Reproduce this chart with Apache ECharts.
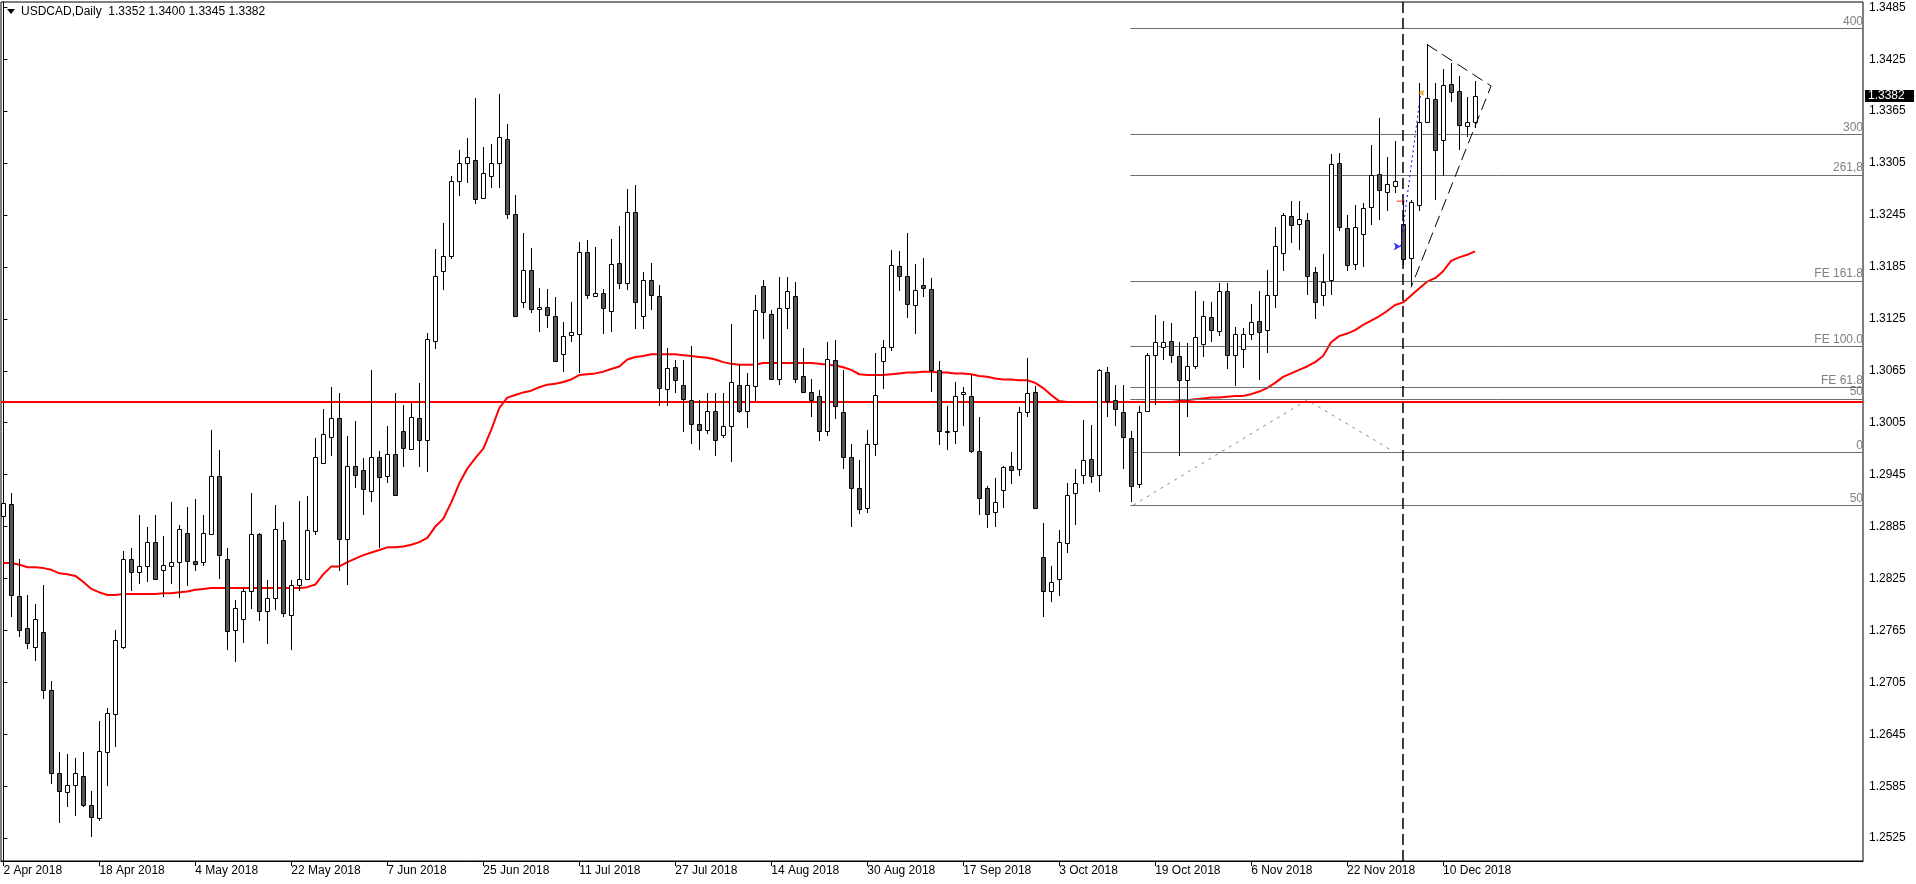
<!DOCTYPE html>
<html>
<head>
<meta charset="utf-8">
<script src="https://cdn.jsdelivr.net/npm/echarts@6/dist/echarts.min.js"></script>
<style>
html,body{margin:0;padding:0;background:#fff;}
#chart{width:1916px;height:884px;}
</style>
</head>
<body>
<div id="chart"></div>
<script>
// ---- data ----
const symbolTitle = 'USDCAD,Daily  1.3352 1.3400 1.3345 1.3382';
const dateLabels = ['2 Apr 2018','18 Apr 2018','4 May 2018','22 May 2018','7 Jun 2018','25 Jun 2018','11 Jul 2018','27 Jul 2018','14 Aug 2018','30 Aug 2018','17 Sep 2018','3 Oct 2018','19 Oct 2018','6 Nov 2018','22 Nov 2018','10 Dec 2018'];
const dateLabelIndex = [0,12,24,36,48,60,72,84,96,108,120,132,144,156,168,180];
const priceTicks = [1.2525,1.2585,1.2645,1.2705,1.2765,1.2825,1.2885,1.2945,1.3005,1.3065,1.3125,1.3185,1.3245,1.3305,1.3365,1.3425,1.3485];

const opens = [1.2897,1.2911,1.2805,1.2768,1.2746,1.2763,1.2696,1.2600,1.2578,1.2586,1.2597,1.2563,1.2548,1.2624,1.2669,1.2746,1.2847,1.2832,1.2839,1.2867,
1.2835,1.2840,1.2844,1.2877,1.2845,1.2844,1.2876,1.2943,1.2847,1.2765,1.2778,1.2810,1.2876,1.2788,1.2803,1.2870,1.2783,1.2817,1.2825,1.2880,
1.2959,1.2989,1.3010,1.2871,1.2955,1.2950,1.2926,1.2965,1.2943,1.2969,1.2996,1.2975,1.3010,1.2985,1.3099,1.3180,1.3198,1.3284,1.3305,1.3308,
1.3265,1.3290,1.3305,1.3333,1.3246,1.3145,1.3181,1.3136,1.3139,1.3128,1.3084,1.3106,1.3108,1.3202,1.3151,1.3155,1.3134,1.3189,1.3166,1.3248,
1.3128,1.3170,1.3151,1.3044,1.3069,1.3048,1.3031,1.3003,1.2997,1.3019,1.2991,1.3001,1.3049,1.3018,1.3047,1.3163,1.3131,1.3055,1.3137,1.3151,
1.3059,1.3041,1.3036,1.2995,1.3078,1.3017,1.2965,1.2929,1.2906,1.2980,1.3076,1.3093,1.3186,1.3174,1.3141,1.3164,1.3159,1.3066,1.2995,1.2996,
1.3038,1.3036,1.2972,1.2929,1.2902,1.2927,1.2955,1.2951,1.3017,1.3040,1.2850,1.2810,1.2825,1.2866,1.2924,1.2945,1.2963,1.2945,1.3064,1.3031,
1.3017,1.2987,1.2934,1.3018,1.3083,1.3092,1.3099,1.3082,1.3054,1.3071,1.3096,1.3127,1.3111,1.3157,1.3083,1.3090,1.3108,1.3122,1.3112,1.3153,
1.3201,1.3244,1.3235,1.3239,1.3179,1.3152,1.3170,1.3305,1.3230,1.3188,1.3223,1.3254,1.3292,1.3272,1.3279,1.3235,1.3195,1.3256,1.3353,1.3379,
1.3332,1.3396,1.3388,1.3348,1.3352];
const highs = [1.2944,1.2924,1.2848,1.2806,1.2796,1.2818,1.2706,1.2624,1.2622,1.2618,1.2624,1.2580,1.2660,1.2675,1.2766,1.2857,1.2860,1.2898,1.2885,1.2898,
1.2874,1.2913,1.2887,1.2908,1.2917,1.2898,1.2997,1.2974,1.2860,1.2800,1.2814,1.2924,1.2877,1.2823,1.2910,1.2890,1.2823,1.2914,1.2920,1.2987,
1.3021,1.3046,1.3039,1.2990,1.3007,1.2964,1.3066,1.2972,1.3001,1.3039,1.3026,1.3028,1.3051,1.3109,1.3206,1.3236,1.3290,1.3320,1.3334,1.3380,
1.3324,1.3327,1.3385,1.3350,1.3268,1.3224,1.3207,1.3161,1.3160,1.3150,1.3121,1.3144,1.3214,1.3216,1.3208,1.3160,1.3217,1.3232,1.3275,1.3280,
1.3179,1.3189,1.3164,1.3091,1.3077,1.3077,1.3094,1.3031,1.3039,1.3039,1.3039,1.3119,1.3073,1.3063,1.3152,1.3170,1.3135,1.3173,1.3173,1.3168,
1.3091,1.3056,1.3043,1.3098,1.3101,1.3066,1.2980,1.2962,1.2997,1.3086,1.3100,1.3205,1.3203,1.3224,1.3188,1.3195,1.3172,1.3076,1.3024,1.3052,
1.3046,1.3060,1.3012,1.2932,1.2941,1.2955,1.2971,1.3023,1.3080,1.3047,1.2889,1.2839,1.2881,1.2935,1.2952,1.3008,1.3002,1.3067,1.3069,1.3049,
1.3048,1.2996,1.3024,1.3086,1.3130,1.3123,1.3120,1.3098,1.3097,1.3157,1.3146,1.3144,1.3167,1.3166,1.3116,1.3115,1.3142,1.3157,1.3181,1.3231,
1.3247,1.3261,1.3261,1.3247,1.3185,1.3200,1.3315,1.3317,1.3245,1.3256,1.3259,1.3326,1.3357,1.3312,1.3330,1.3262,1.3262,1.3397,1.3442,1.3398,
1.3414,1.3421,1.3406,1.3381,1.3400];
const lows = [1.2862,1.2780,1.2757,1.2744,1.2730,1.2686,1.2588,1.2543,1.2561,1.2551,1.2561,1.2526,1.2545,1.2585,1.2630,1.2744,1.2811,1.2819,1.2821,1.2824,
1.2804,1.2819,1.2802,1.2816,1.2834,1.2839,1.2875,1.2824,1.2742,1.2728,1.2750,1.2790,1.2776,1.2749,1.2789,1.2780,1.2742,1.2810,1.2824,1.2875,
1.2958,1.2967,1.2834,1.2817,1.2930,1.2898,1.2913,1.2860,1.2935,1.2921,1.2954,1.2975,1.2954,1.2948,1.3090,1.3158,1.3194,1.3267,1.3282,1.3258,
1.3263,1.3276,1.3276,1.3240,1.3127,1.3137,1.3132,1.3110,1.3114,1.3075,1.3064,1.3098,1.3062,1.3148,1.3150,1.3108,1.3110,1.3160,1.3158,1.3113,
1.3113,1.3135,1.3024,1.3024,1.3039,1.2994,1.2980,1.2973,1.2992,1.2966,1.2987,1.2960,1.3016,1.2999,1.3030,1.3102,1.3054,1.3049,1.3113,1.3051,
1.3039,1.3012,1.2984,1.2990,1.3009,1.2951,1.2885,1.2900,1.2901,1.2967,1.3044,1.3088,1.3157,1.3126,1.3108,1.3150,1.3040,1.2979,1.2973,1.2980,
1.3001,1.2970,1.2898,1.2883,1.2884,1.2906,1.2934,1.2943,1.3012,1.2905,1.2780,1.2798,1.2805,1.2854,1.2887,1.2934,1.2935,1.2925,1.3012,1.3001,
1.2952,1.2913,1.2930,1.3017,1.3025,1.3077,1.3074,1.2966,1.3012,1.3067,1.3081,1.3098,1.3105,1.3067,1.3047,1.3068,1.3100,1.3054,1.3085,1.3138,
1.3180,1.3213,1.3205,1.3153,1.3125,1.3140,1.3152,1.3227,1.3180,1.3182,1.3185,1.3233,1.3239,1.3250,1.3270,1.3187,1.3163,1.3250,1.3352,1.3262,
1.3290,1.3375,1.3320,1.3335,1.3345];
const closes = [1.2912,1.2806,1.2766,1.2750,1.2778,1.2696,1.2600,1.2579,1.2586,1.2600,1.2563,1.2549,1.2626,1.2670,1.2754,1.2847,1.2832,1.2839,1.2867,1.2825,
1.2841,1.2844,1.2882,1.2845,1.2842,1.2878,1.2943,1.2852,1.2764,1.2791,1.2811,1.2876,1.2788,1.2802,1.2882,1.2785,1.2817,1.2825,1.2881,1.2965,
1.2992,1.3010,1.2871,1.2955,1.2945,1.2928,1.2965,1.2942,1.2969,1.2922,1.2976,1.3012,1.2985,1.3102,1.3175,1.3198,1.3284,1.3305,1.3312,1.3264,
1.3294,1.3305,1.3335,1.3246,1.3128,1.3181,1.3136,1.3139,1.3129,1.3076,1.3105,1.3110,1.3202,1.3152,1.3155,1.3137,1.3188,1.3167,1.3248,1.3144,
1.3170,1.3152,1.3045,1.3068,1.3054,1.3032,1.3003,1.2997,1.3019,1.2985,1.3001,1.3052,1.3019,1.3048,1.3135,1.3133,1.3055,1.3138,1.3157,1.3056,
1.3041,1.3031,1.2995,1.3079,1.3024,1.2965,1.2930,1.2905,1.2980,1.3037,1.3092,1.3187,1.3175,1.3142,1.3158,1.3161,1.3066,1.2995,1.2994,1.3036,
1.3040,1.2972,1.2918,1.2900,1.2913,1.2954,1.2950,1.3017,1.3039,1.2907,1.2811,1.2821,1.2867,1.2922,1.2935,1.2962,1.2943,1.3066,1.3030,1.3021,
1.2988,1.2932,1.3017,1.3083,1.3098,1.3098,1.3083,1.3054,1.3070,1.3104,1.3128,1.3112,1.3157,1.3083,1.3107,1.3107,1.3121,1.3110,1.3152,1.3209,
1.3245,1.3234,1.3240,1.3175,1.3145,1.3168,1.3304,1.3231,1.3187,1.3231,1.3253,1.3291,1.3274,1.3281,1.3284,1.3194,1.3260,1.3352,1.3380,1.3320,
1.3395,1.3387,1.3349,1.3352,1.3382];
const movingAvg = [1.2843,1.2843,1.2841,1.2838,1.2838,1.2837,1.2835,1.2831,1.2830,1.2828,1.2821,1.2813,1.2809,1.2806,1.2806,1.2807,1.2807,1.2807,1.2807,1.2807,
1.2808,1.2808,1.2809,1.2810,1.2812,1.2813,1.2814,1.2814,1.2814,1.2814,1.2814,1.2814,1.2814,1.2814,1.2814,1.2814,1.2814,1.2814,1.2815,1.2818,
1.2830,1.2839,1.2839,1.2844,1.2848,1.2852,1.2855,1.2858,1.2861,1.2861,1.2862,1.2864,1.2867,1.2872,1.2885,1.2894,1.2913,1.2935,1.2952,1.2964,
1.2975,1.2997,1.3022,1.3034,1.3037,1.3040,1.3042,1.3046,1.3049,1.3050,1.3052,1.3055,1.3060,1.3061,1.3062,1.3064,1.3067,1.3070,1.3078,1.3081,
1.3082,1.3084,1.3084,1.3084,1.3084,1.3083,1.3082,1.3081,1.3080,1.3078,1.3075,1.3073,1.3072,1.3072,1.3072,1.3074,1.3074,1.3074,1.3074,1.3074,
1.3074,1.3074,1.3073,1.3072,1.3071,1.3069,1.3066,1.3061,1.3060,1.3060,1.3060,1.3061,1.3062,1.3063,1.3063,1.3064,1.3064,1.3063,1.3063,1.3062,
1.3062,1.3061,1.3059,1.3058,1.3056,1.3055,1.3055,1.3054,1.3054,1.3051,1.3045,1.3037,1.3030,1.3029,1.3029,1.3029,1.3029,1.3029,1.3029,1.3029,
1.3029,1.3029,1.3029,1.3029,1.3029,1.3029,1.3029,1.3030,1.3031,1.3032,1.3033,1.3034,1.3034,1.3035,1.3036,1.3036,1.3038,1.3041,1.3045,1.3051,
1.3058,1.3062,1.3066,1.3070,1.3075,1.3082,1.3098,1.3105,1.3108,1.3112,1.3118,1.3123,1.3128,1.3134,1.3141,1.3144,1.3152,1.3160,1.3168,1.3172,
1.3180,1.3192,1.3196,1.3199,1.3203];
const supportLevel = 1.3029;
const lastPrice = 1.3382;
const fiboLevels = [1.34607,1.33383,1.32913,1.31688,1.30934,1.30460,1.30325,1.29709,1.29097];
const fiboLabels = ['400','300','261,8','FE 161.8','FE 100.0','FE 61.8','50','0','50'];
const fiboStartBar = 140.9;
const fiboZigzag = [[141.25,1.29097],[163.0,1.30313],[173.75,1.29720]];
const triangleLine = [[178.0,1.3442],[186.0,1.33941],[176.0,1.31615]];
const markerBar = 175;
const tradeArrow = [[174.7,1.32085],[177.2,1.33863]];
const tradeTick = [174.7,1.3261];

// ---- chart ----
const X_MIN = -0.3, X_MAX = 232.5;
const chart = echarts.init(document.getElementById('chart'), null, {renderer:'canvas'});
const candleData = opens.map((o,i)=>[i,o,highs[i],lows[i],closes[i]]);
const maData = movingAvg.map((v,i)=>[i,v]);
const FONT = 'Liberation Sans, Arial, sans-serif';

const fiboMarks = fiboLevels.map((lv,k)=>[
  {coord:[fiboStartBar,lv], label:{show:true, formatter:fiboLabels[k], position:'insideEndTop', color:'#7f7f88', fontSize:12, fontFamily:FONT, distance:[0,1]}},
  {coord:[X_MAX,lv]}
]);

const option = {
  animation:false,
  backgroundColor:'#ffffff',
  grid:{left:1, right:53, top:2, bottom:23, show:true, borderColor:'#000', borderWidth:1, backgroundColor:'#fff'},
  xAxis:{
    type:'value', min:X_MIN, max:X_MAX, position:'bottom',
    axisLine:{show:true, onZero:false, lineStyle:{color:'#000', width:1}},
    axisTick:{show:true, length:5, lineStyle:{color:'#000'}, customValues:dateLabelIndex},
    axisLabel:{show:true, customValues:dateLabelIndex, align:'left', margin:4, color:'#000', fontSize:12, fontFamily:FONT,
      formatter:(v)=>{const k=dateLabelIndex.indexOf(Math.round(v)); return k>=0?dateLabels[k]:'';}},
    splitLine:{show:false}
  },
  yAxis:{
    type:'value', position:'right', min:1.24986, max:1.34911, scale:true,
    axisLine:{show:true, lineStyle:{color:'#000', width:1}},
    axisTick:{show:true, length:4, lineStyle:{color:'#000'}, customValues:priceTicks},
    axisLabel:{show:true, customValues:priceTicks, margin:6, color:'#000', fontSize:12, fontFamily:FONT,
      formatter:(v)=>v.toFixed(4)},
    splitLine:{show:false}
  },
  graphic:[
    {type:'polygon', shape:{points:[[7,9],[15,9],[11,14]]}, style:{fill:'#000'}},
    {type:'text', left:21, top:6, style:{text:symbolTitle, fill:'#000', font:'12px '+FONT}}
  ],
  series:[
    {
      type:'line', name:'levels', data:[], silent:true,
      markLine:{silent:true, symbol:['none','none'], lineStyle:{color:'#6e6e6e', width:1, type:'solid'}, data:fiboMarks}
    },
    {
      type:'line', name:'support', data:[], silent:true, z:3,
      markLine:{silent:true, symbol:['none','none'], label:{show:false},
        lineStyle:{color:'#ff0000', width:2, type:'solid'},
        data:[[{coord:[X_MIN,supportLevel]},{coord:[X_MAX,supportLevel]}]]}
    },
    {
      type:'line', name:'zigzag', data:fiboZigzag, symbol:'none', silent:true,
      lineStyle:{color:'#8a8a8a', width:1, type:[3,5]}
    },
    {
      type:'line', name:'MA', data:maData, symbol:'none', silent:true, z:4,
      lineStyle:{color:'#ff0000', width:2}
    },
    {
      type:'custom', name:'candles', data:candleData, z:5,
      encode:{x:0, y:[1,2,3,4]},
      renderItem:(params, api)=>{
        const i=api.value(0), o=api.value(1), h=api.value(2), l=api.value(3), c=api.value(4);
        const pO=api.coord([i,o]), pC=api.coord([i,c]), pH=api.coord([i,h]), pL=api.coord([i,l]);
        const x=Math.round(pO[0])+0.5;
        const top=Math.round(Math.min(pO[1],pC[1]))+0.5, bot=Math.round(Math.max(pO[1],pC[1]))+0.5;
        return {type:'group', children:[
          {type:'line', shape:{x1:x, y1:Math.round(pH[1]), x2:x, y2:Math.round(pL[1])}, style:{stroke:'#000', lineWidth:1}},
          {type:'rect', shape:{x:x-2, y:top, width:4, height:Math.max(bot-top,1)},
            style:{fill:(c>=o?'#ffffff':'#555555'), stroke:'#000', lineWidth:1}}
        ]};
      }
    },
    {
      type:'line', name:'marker', data:[], silent:true, z:6,
      markLine:{silent:true, symbol:['none','none'], label:{show:false},
        lineStyle:{color:'#000', width:1.5, type:[11,5]}, data:[{xAxis:markerBar}]}
    },
    {
      type:'line', name:'triangle', data:triangleLine, symbol:'none', silent:true, z:6,
      lineStyle:{color:'#000', width:1, type:[12,6]}
    },
    {
      type:'line', name:'trade', data:tradeArrow, symbol:'none', silent:true, z:7,
      lineStyle:{color:'#0000ff', width:1, type:[2,3]}
    },
    {
      type:'scatter', name:'tradeMarks', silent:true, z:8,
      data:[
        {value:tradeArrow[0], symbol:'arrow', symbolSize:[6,7], symbolRotate:-90, itemStyle:{color:'#0000ff'}},
        {value:tradeArrow[1], symbol:'triangle', symbolSize:[6,6], symbolRotate:90, itemStyle:{color:'#daa520'}},
        {value:tradeTick, symbol:'rect', symbolSize:[8,1], itemStyle:{color:'#ff0000'}}
      ]
    }
  ]
};
chart.setOption(option);

// current-price tag on the right axis, positioned through the y axis scale
const tagY = chart.convertToPixel({yAxisIndex:0}, lastPrice);
const axisX = chart.convertToPixel({xAxisIndex:0}, X_MAX);
chart.setOption({
  graphic:[
    {type:'polygon', shape:{points:[[7,9],[15,9],[11,14]]}, style:{fill:'#000'}},
    {type:'text', left:21, top:6, style:{text:symbolTitle, fill:'#000', font:'12px '+FONT}},
    {type:'rect', shape:{x:axisX+2, y:Math.round(tagY)-6, width:49, height:12}, style:{fill:'#000'}, z:100},
    {type:'text', x:axisX+5, y:Math.round(tagY), z:101,
      style:{text:lastPrice.toFixed(4), fill:'#fff', font:'12px '+FONT, textVerticalAlign:'middle', verticalAlign:'middle'}}
  ]
});
</script>
</body>
</html>
